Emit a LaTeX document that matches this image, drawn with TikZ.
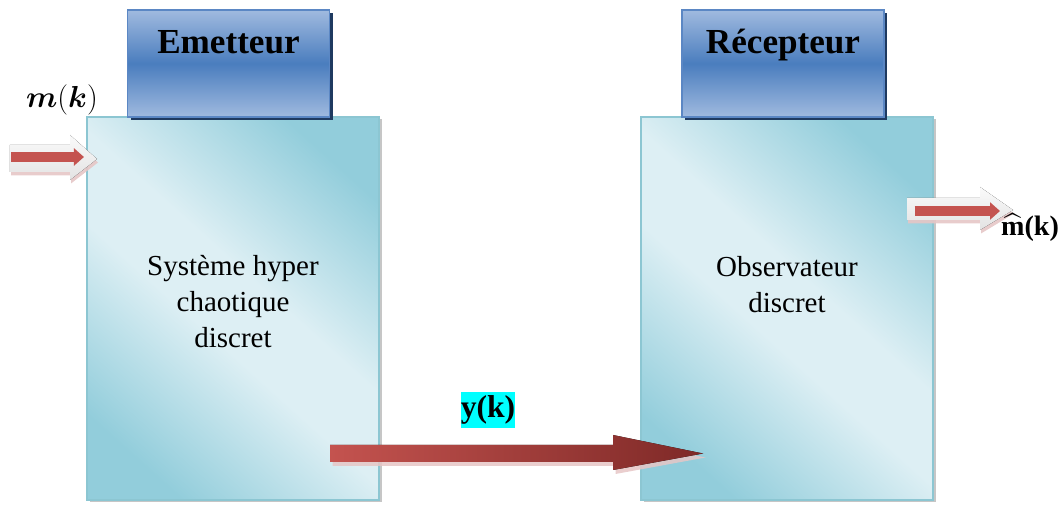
\documentclass[tikz,border=0pt]{standalone}
\usepackage{fontspec}
\setmainfont{Liberation Serif}
\usepackage{amsmath,bm}
\usetikzlibrary{calc,shadows,arrows.meta}

\definecolor{bleuclair}{HTML}{A0BADF}
\definecolor{bleufonce}{HTML}{4A7DBE}
\definecolor{bleubord}{HTML}{5B87C4}
\definecolor{marine}{HTML}{1F3A60}
\definecolor{cyanclair}{HTML}{DDEFF4}
\definecolor{cyanfonce}{HTML}{92CDDB}
\definecolor{cyanbord}{HTML}{8CC6D2}
\definecolor{cyanvif}{RGB}{0,255,255}
\definecolor{rouge}{HTML}{C4534F}
\definecolor{rougefonce}{HTML}{7E2927}
\definecolor{rose}{HTML}{E6C6C6}

\pgfdeclareverticalshading{bande}{100bp}{color(0bp)=(cyanfonce); color(24bp)=(cyanfonce);
  color(45bp)=(cyanclair); color(55bp)=(cyanclair); color(76bp)=(cyanfonce); color(100bp)=(cyanfonce)}

\begin{document}
\begin{tikzpicture}[
  bloc/.style={minimum width=5.84cm, minimum height=7.66cm, draw=cyanbord, line width=0.6pt,
    shading=bande, shading angle=-42,
    drop shadow={shadow xshift=0.05cm, shadow yshift=-0.05cm, fill=gray, opacity=0.45}},
  entete/.style={minimum width=4.04cm, minimum height=2.14cm, draw=bleubord, line width=0.6pt,
    top color=bleuclair, bottom color=bleuclair, middle color=bleufonce,
    drop shadow={shadow xshift=0.06cm, shadow yshift=-0.07cm, fill=marine, opacity=1},
    font=\fontsize{20}{24}\selectfont\bfseries, text depth=0.87cm},
  texte/.style={align=center, font=\fontsize{16.5}{20.5}\selectfont},
  pale/.style={top color=gray!4, bottom color=gray!22,
    drop shadow={shadow xshift=0.02cm, shadow yshift=-0.07cm, fill=rose, opacity=0.9}},
  fleche/.style={draw=rouge, line width=0.2cm, -{Triangle[length=0.2cm, width=0.34cm]}},
]
  \useasboundingbox (0,0) rectangle (21.18,-10.14);

  % les deux blocs
  \node [bloc] (emet) at (4.66,-6.17) {};
  \node [bloc] (recep) at (15.74,-6.17) {};
  \node [entete] (emettitre) at (4.57,-1.27) {Emetteur};
  \node [entete] (receptitre) at (15.66,-1.27) {Récepteur};
  \node [texte] (emettexte) at ($(emet.center)+(0,0.13)$) {Système hyper\\chaotique\\discret};
  \node [texte] (receptexte) at ($(recep.center)+(0,0.47)$) {Observateur\\discret};

  % entree m(k)
  \node (mk) at (1.24,-2.0) {\fontsize{19}{22}\selectfont$\bm{m}(\bm{k})$};
  \coordinate (entree) at (0.22,-3.14);
  \fill [pale] (0.2,-2.9) -- (1.4,-2.9) -- (1.4,-2.7) -- (1.94,-3.18)
    -- (1.4,-3.6) -- (1.4,-3.44) -- (0.2,-3.44) -- cycle;
  \draw [fleche] (entree) -- ($(emet.west |- entree)+(-0.05,0)$);

  % sortie
  \coordinate (sortie) at (20.0,-4.22);
  \fill [pale] (18.14,-3.96) -- (19.6,-3.96) -- (19.6,-3.74) -- (20.26,-4.2)
    -- (19.6,-4.6) -- (19.6,-4.4) -- (18.14,-4.4) -- cycle;
  \draw [fleche] ($(recep.east |- sortie)+(-0.38,0)$) -- (sortie);
  \node (mchapeau) at (20.6,-4.55) {\fontsize{16}{19}\selectfont\bfseries $\widehat{\textbf{m}}$(k)};

  % signal transmis y(k)
  \coordinate (ydebut) at (6.6,-9.07);
  \coordinate (yfin) at (14.06,-9.07);
  \fill [left color=rouge, right color=rougefonce,
    drop shadow={shadow xshift=0.05cm, shadow yshift=-0.08cm, fill=rose, opacity=0.85}]
    ($(ydebut)+(0,0.17)$) -- ($(yfin)+(-1.8,0.17)$) -- ($(yfin)+(-1.8,0.37)$) -- (yfin)
    -- ($(yfin)+(-1.8,-0.33)$) -- ($(yfin)+(-1.8,-0.17)$) -- ($(ydebut)+(0,-0.17)$) -- cycle;
  \node [fill=cyanvif, inner xsep=0pt, inner ysep=2pt, font=\fontsize{18}{21}\selectfont\bfseries]
    (yk) at (9.76,-8.2) {y(k)};
\end{tikzpicture}
\end{document}
